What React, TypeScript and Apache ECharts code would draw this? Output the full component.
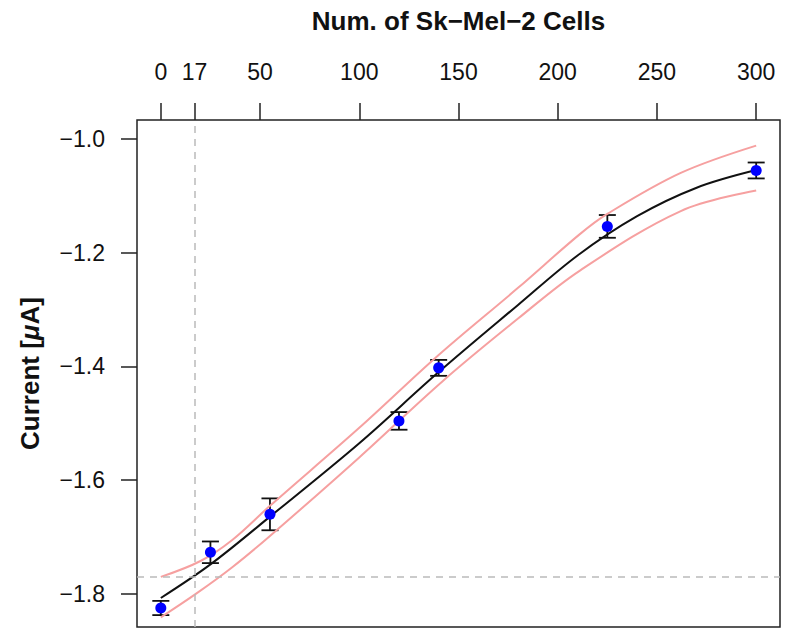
import React, { useEffect, useRef } from "react";
import * as echarts from "echarts";

// Measured points (cells, current in µA) and symmetric error
const cellCounts = [0, 25, 55, 120, 140, 225, 300];
const currents = [-1.8246, -1.7267, -1.66, -1.4958, -1.4026, -1.154, -1.0557];
const errors = [0.0125, 0.019, 0.028, 0.0155, 0.014, 0.02, 0.014];

// Fitted curve
const fitX = [0, 25, 55, 100, 140, 180, 210, 240, 270, 300];
const fitY = [-1.807, -1.748, -1.664, -1.535, -1.41, -1.292, -1.205, -1.136, -1.086, -1.055];

// Confidence band, upper and lower
const upperX = [0, 20, 36, 55, 100, 140, 180, 211, 225, 262, 300];
const upperY = [-1.77, -1.742, -1.705, -1.645, -1.508, -1.38, -1.262, -1.168, -1.132, -1.06, -1.012];
const lowerX = [0, 18, 36, 55, 100, 142, 180, 211, 262, 300];
const lowerY = [-1.841, -1.799, -1.753, -1.698, -1.56, -1.426, -1.316, -1.232, -1.127, -1.091];

// Detection limit
const lodCells = 17;
const lodCurrent = -1.77;

// Axis ticks
const xTicks = [0, 17, 50, 100, 150, 200, 250, 300];
const yTicks = [-1.8, -1.6, -1.4, -1.2, -1.0];

const FONT = "'Liberation Sans', Arial, Helvetica, sans-serif";

export default function App() {
  const ref = useRef<HTMLDivElement>(null);
  useEffect(() => {
    if (!ref.current) return;
    const chart = echarts.init(ref.current, null, { renderer: "svg" });
    const zip = (xs: number[], ys: number[]) => xs.map((x, i) => [x, ys[i]]);
    chart.setOption({
      animation: false,
      backgroundColor: "#fff",
      textStyle: { fontFamily: FONT },
      grid: {
        left: 137,
        right: 20,
        top: 120,
        bottom: 16,
        show: true,
        borderColor: "#222",
        borderWidth: 1.5,
        backgroundColor: "transparent",
      },
      xAxis: {
        type: "value",
        position: "top",
        min: -12,
        max: 312,
        name: "Num. of Sk−Mel−2 Cells",
        nameLocation: "middle",
        nameGap: 86,
        nameTextStyle: { fontSize: 26, fontWeight: "bold", color: "#111", fontFamily: FONT },
        axisLine: { show: false, onZero: false },
        splitLine: { show: false },
        axisTick: {
          show: true,
          length: 17,
          customValues: xTicks,
          lineStyle: { color: "#222", width: 1.5 },
        },
        axisLabel: {
          customValues: xTicks,
          margin: 37,
          fontSize: 23,
          color: "#111",
          fontFamily: FONT,
          formatter: (v: number) => String(v),
        },
      },
      yAxis: {
        type: "value",
        position: "left",
        min: -1.858,
        max: -0.967,
        name: "Current [{mu|μ}A]",
        nameLocation: "middle",
        nameGap: 94,
        nameRotate: 90,
        nameTextStyle: {
          fontSize: 26,
          fontWeight: "bold",
          color: "#111",
          fontFamily: FONT,
          rich: {
            mu: { fontSize: 26, fontWeight: "bold", fontStyle: "italic", color: "#111", fontFamily: FONT },
          },
        },
        axisLine: { show: false, onZero: false },
        splitLine: { show: false },
        axisTick: {
          show: true,
          length: 16,
          customValues: yTicks,
          lineStyle: { color: "#222", width: 1.5 },
        },
        axisLabel: {
          customValues: yTicks,
          margin: 32,
          fontSize: 23,
          color: "#111",
          fontFamily: FONT,
          formatter: (v: number) => v.toFixed(1).replace("-", "−"),
        },
      },
      series: [
        {
          type: "line",
          data: [],
          silent: true,
          markLine: {
            silent: true,
            symbol: "none",
            label: { show: false },
            lineStyle: { color: "#bbbbbb", type: [7, 6], width: 1.5 },
            data: [{ xAxis: lodCells }, { yAxis: lodCurrent }],
          },
        },
        {
          type: "line",
          data: zip(upperX, upperY),
          smooth: 0.35,
          showSymbol: false,
          silent: true,
          lineStyle: { color: "#f6a0a0", width: 2 },
        },
        {
          type: "line",
          data: zip(lowerX, lowerY),
          smooth: 0.35,
          showSymbol: false,
          silent: true,
          lineStyle: { color: "#f6a0a0", width: 2 },
        },
        {
          type: "line",
          data: zip(fitX, fitY),
          smooth: 0.35,
          showSymbol: false,
          silent: true,
          lineStyle: { color: "#111", width: 2 },
        },
        {
          type: "custom",
          silent: true,
          z: 3,
          data: cellCounts.map((x, i) => [x, currents[i] - errors[i], currents[i] + errors[i]]),
          encode: { x: 0, y: [1, 2] },
          renderItem: (params: any, api: any) => {
            const x = api.value(0);
            const lo = api.coord([x, api.value(1)]);
            const hi = api.coord([x, api.value(2)]);
            const w = 8.5;
            const style = { stroke: "#111", lineWidth: 1.8 };
            return {
              type: "group",
              children: [
                { type: "line", shape: { x1: lo[0], y1: lo[1], x2: hi[0], y2: hi[1] }, style },
                { type: "line", shape: { x1: lo[0] - w, y1: lo[1], x2: lo[0] + w, y2: lo[1] }, style },
                { type: "line", shape: { x1: hi[0] - w, y1: hi[1], x2: hi[0] + w, y2: hi[1] }, style },
              ],
            };
          },
        },
        {
          type: "scatter",
          data: zip(cellCounts, currents),
          symbol: "circle",
          symbolSize: 11,
          silent: true,
          z: 10,
          itemStyle: { color: "#0000ff", opacity: 1 },
        },
      ],
    });
    return () => chart.dispose();
  }, []);
  return <div ref={ref} style={{ width: 800, height: 643, position: "absolute", left: 0, top: 0 }} />;
}
